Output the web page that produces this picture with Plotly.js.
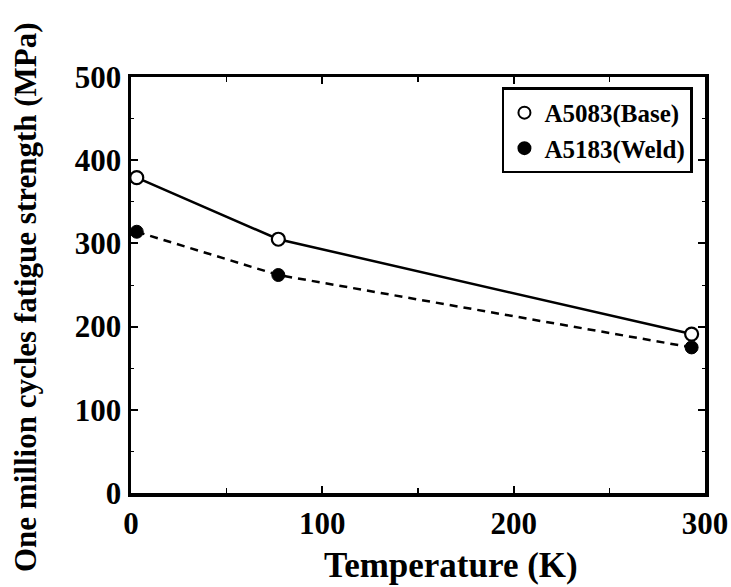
<!DOCTYPE html>
<html><head><meta charset="utf-8">
<script src="https://cdn.plot.ly/plotly-3.0.1.min.js"></script>
<style>body{margin:0;background:#fff}#chart{width:731px;height:587px}</style>
</head><body><div id="chart"></div>
<script>
var temperature = [3, 77, 293];
var baseStrength = [379, 305, 191];
var weldStrength = [314, 262, 175];
var baseName = "A5083(Base)";
var weldName = "A5183(Weld)";
var xTitle = "Temperature (K)";
var yTitle = "One million cycles fatigue strength (MPa)";

var fam = "Liberation Serif, Times New Roman, serif";
var traces = [
  {x: temperature, y: baseStrength, mode: "lines", showlegend: false, hoverinfo: "skip",
   line: {color: "#000", width: 2.5, dash: "solid"}},
  {x: temperature, y: weldStrength, mode: "lines", showlegend: false, hoverinfo: "skip",
   line: {color: "#000", width: 2.5, dash: "8px,6px"}},
  {x: temperature, y: baseStrength, name: baseName, mode: "markers",
   marker: {symbol: "circle", size: 13, color: "#fff", line: {width: 2.2, color: "#000"}}},
  {x: temperature, y: weldStrength, name: weldName, mode: "markers",
   marker: {symbol: "circle", size: 13, color: "#000", line: {width: 1, color: "#000"}}}
];
var axisCommon = {showgrid: false, zeroline: false, showline: true, linecolor: "#000", linewidth: 3.5,
  mirror: "ticks", ticks: "inside", ticklen: 7, tickwidth: 2, tickcolor: "#000",
  tickfont: {family: fam, size: 31, color: "#000", weight: "bold"}};
var layout = {
  width: 731, height: 587,
  margin: {l: 131, r: 26, t: 77, b: 94},
  paper_bgcolor: "#fff", plot_bgcolor: "#fff",
  font: {family: fam, color: "#000"},
  showlegend: true,
  legend: {x: 0.979, y: 0.975, xanchor: "right", yanchor: "top", bgcolor: "#fff",
    bordercolor: "#000", borderwidth: 2.5, tracegroupgap: 0, itemsizing: "constant",
    font: {family: fam, size: 25, color: "#000", weight: "bold"}, itemwidth: 30},
  annotations: [
    {text: xTitle, xref: "paper", yref: "paper", x: (451 - 131) / 574, y: (493 - 565) / 416,
     xanchor: "center", yanchor: "middle", showarrow: false,
     font: {family: fam, size: 35, color: "#000", weight: "bold"}},
    {text: yTitle, xref: "paper", yref: "paper", x: (25 - 131) / 574, y: (493 - 297) / 416,
     xanchor: "center", yanchor: "middle", showarrow: false, textangle: -90,
     font: {family: fam, size: 31, color: "#000", weight: "bold"}}
  ],
  xaxis: Object.assign({}, axisCommon, {range: [0, 300], tickvals: [0, 100, 200, 300],
    minor: {tickvals: [50, 150, 250], ticks: "inside", ticklen: 5, tickwidth: 1.5, tickcolor: "#000"}}),
  yaxis: Object.assign({}, axisCommon, {range: [0, 500], tickvals: [0, 100, 200, 300, 400, 500],
    minor: {tickvals: [50, 150, 250, 350, 450], ticks: "inside", ticklen: 3, tickwidth: 1, tickcolor: "#000"}})
};
Plotly.newPlot("chart", traces, layout, {displayModeBar: false, staticPlot: true});
</script></body></html>
